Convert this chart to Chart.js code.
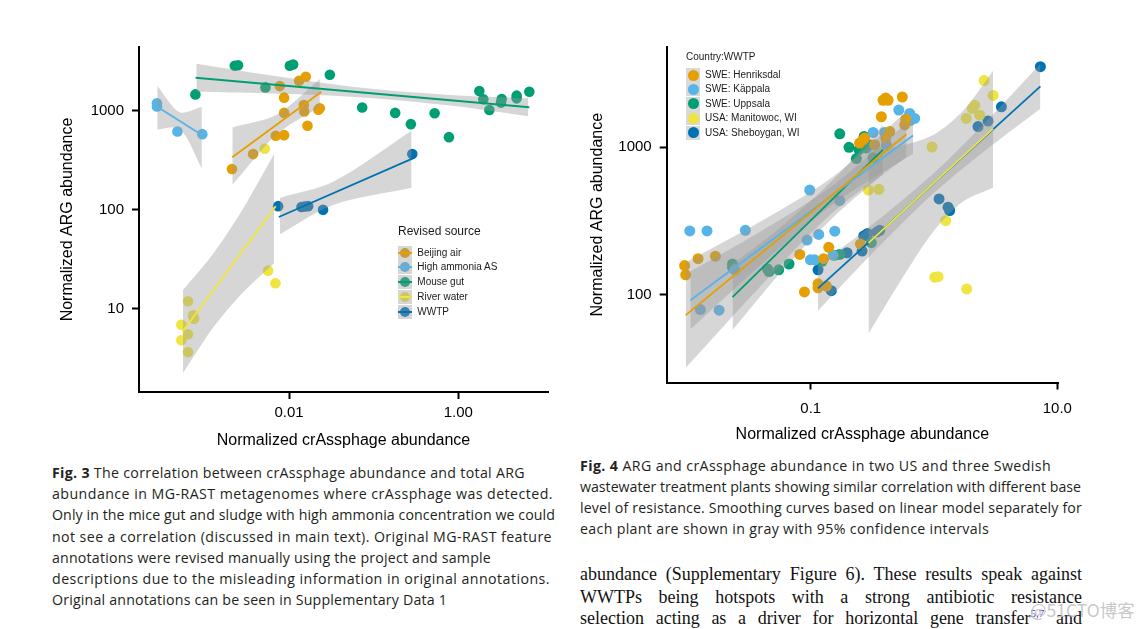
<!DOCTYPE html>
<html>
<head>
<meta charset="utf-8">
<script src="https://cdn.jsdelivr.net/npm/chart.js"></script>
<style>
  body { margin:0; width:1146px; height:629px; background:#fff; position:relative; overflow:hidden;
         font-family:"Liberation Sans", Arial, sans-serif; }
  canvas { position:absolute; }
  .lgtitle { position:absolute; white-space:nowrap; color:#1a1a1a; }
  .lgrow { position:absolute; white-space:nowrap; color:#1a1a1a; font-size:10px; }
  .key { position:absolute; width:14px; height:14px; background:#fff; overflow:hidden; }
  .key .dot { position:absolute; border-radius:50%; }
  .key .band { position:absolute; left:0; top:0; width:14px; height:14px; background:rgba(153,153,153,0.4); }
  .key .ln { position:absolute; left:0; top:6px; width:14px; height:2px; }
  .cap { position:absolute; font-family:"Open Sans", "Noto Sans", sans-serif; font-size:14.2px;
         line-height:21.3px; color:#231f20; white-space:nowrap; }
  .cap b { font-weight:700; }
  .fit { display:inline-block; white-space:nowrap; }
  .body { position:absolute; font-family:"Liberation Serif", "DejaVu Serif", serif; font-size:18px; color:#111;
          width:502px; text-align:justify; text-align-last:justify; white-space:nowrap; line-height:22px; height:22px; }
  .body sup { font-size:11px; color:#4040c8; vertical-align:0; position:relative; top:-7px; }
  .wm { position:absolute; font-family:"Noto Sans CJK SC", "Noto Sans", sans-serif; font-size:17.5px; color:rgba(190,190,190,0.85); }
</style>
</head>
<body>
<canvas id="fig3" width="520" height="430" style="left:40px;top:30px"></canvas>
<canvas id="fig4" width="520" height="420" style="left:566px;top:30px"></canvas>
<div id="legend3"></div>
<div id="legend4"></div>

<div class="cap" style="left:52px;top:461.7px">
<span class="fit" data-w="473"><b>Fig. 3</b> The correlation between crAssphage abundance and total ARG</span><br>
<span class="fit" data-w="501">abundance in MG-RAST metagenomes where crAssphage was detected.</span><br>
<span class="fit" data-w="503">Only in the mice gut and sludge with high ammonia concentration we could</span><br>
<span class="fit" data-w="500">not see a correlation (discussed in main text). Original MG-RAST feature</span><br>
<span class="fit" data-w="439">annotations were revised manually using the project and sample</span><br>
<span class="fit" data-w="498">descriptions due to the misleading information in original annotations.</span><br>
<span class="fit" data-w="395">Original annotations can be seen in Supplementary Data 1</span>
</div>

<div class="cap" style="left:580px;top:454.5px;line-height:21.1px">
<span class="fit" data-w="471"><b>Fig. 4</b> ARG and crAssphage abundance in two US and three Swedish</span><br>
<span class="fit" data-w="501">wastewater treatment plants showing similar correlation with different base</span><br>
<span class="fit" data-w="502">level of resistance. Smoothing curves based on linear model separately for</span><br>
<span class="fit" data-w="409">each plant are shown in gray with 95% confidence intervals</span>
</div>

<div class="body" style="left:580px;top:563px">abundance (Supplementary Figure 6). These results speak against</div>
<div class="body" style="left:580px;top:585.5px">WWTPs being hotspots with a strong antibiotic resistance</div>
<div class="body" style="left:580px;top:607px">selection acting as a driver for horizontal gene transfer<sup>5,7</sup> and</div>
<div class="wm" style="left:1030px;top:597px">@51CTO博客</div>

<script>
// ======================= Fig. 3 data (MG-RAST metagenomes) =======================
const f3Sources = ['Beijing air', 'High ammonia AS', 'Mouse gut', 'River water', 'WWTP'];

const f3BeijingX = [0.00211, 0.00375, 0.00695, 0.00873, 0.00873, 0.00873, 0.00776, 0.01312, 0.01574, 0.01493, 0.0151, 0.01649, 0.02307, 0.0222];
const f3BeijingY = [259, 366, 561, 569, 955, 1361, 1782, 2019, 2213, 1149, 985, 707, 1064, 1030];
const f3AmmoniaX = [0.000274, 0.000274, 0.000478, 0.000942];
const f3AmmoniaY = [1194, 1107, 619, 582];
const f3MouseX = [0.00078, 0.00228, 0.00249, 0.00525, 0.0102, 0.01115, 0.0303, 0.0731, 0.1795, 0.275, 0.525, 0.776, 1.774, 1.977, 2.33, 3.26, 3.2, 4.9, 4.9, 6.92];
const f3MouseY = [1469, 2857, 2897, 1729, 2857, 2944, 2318, 1081, 955, 735, 948, 543, 1589, 1310, 1023, 1320, 1213, 1426, 1340, 1563];
const f3RiverX = [0.00515, 0.00564, 0.00689, 0.000638, 0.000731, 0.000752, 0.000532, 0.000638, 0.000532, 0.000638];
const f3RiverY = [415, 24.3, 18.1, 11.9, 8.57, 7.94, 6.90, 5.52, 4.81, 3.66];
const f3WwtpX = [0.00741, 0.0140, 0.0153, 0.0168, 0.0252, 0.286];
const f3WwtpY = [109, 107, 108, 109, 100, 366];

// linear-model fits and 95% confidence bands
const f3BeijingFitX = [0.00213, 0.0241];
const f3BeijingFitY = [340, 1563];
const f3BeijingBandX = [0.00213, 0.00708, 0.0231];
const f3BeijingBandHi = [680, 912, 2100];
const f3BeijingBandLo = [178, 574, 1100];

const f3AmmoniaFitX = [0.000276, 0.00093];
const f3AmmoniaFitY = [1100, 570];
const f3AmmoniaBandX = [0.000276, 0.000508, 0.00093];
const f3AmmoniaBandHi = [1800, 970, 1100];
const f3AmmoniaBandLo = [650, 660, 262];

const f3MouseFitX = [0.000785, 6.92];
const f3MouseFitY = [2163, 1089];
const f3MouseBandX = [0.0008, 0.0054, 0.0822, 0.796, 6.73];
const f3MouseBandHi = [2992, 2318, 1690, 1449, 1341];
const f3MouseBandLo = [1563, 1506, 1361, 1132, 883];

const f3RiverFitX = [0.000547, 0.00695];
const f3RiverFitY = [5.84, 109];
const f3RiverBandX = [0.000557, 0.00126, 0.00286, 0.00664];
const f3RiverBandHi = [15.5, 35.7, 103, 367];
const f3RiverBandLo = [2.25, 6.44, 14.7, 28.8];

const f3WwtpFitX = [0.00755, 0.286];
const f3WwtpFitY = [84.7, 330];
const f3WwtpBandX = [0.00776, 0.0332, 0.2805];
const f3WwtpBandHi = [132, 192, 630];
const f3WwtpBandLo = [56.8, 112, 167];

const f3XTicks = [0.01, 1];
const f3XTickLabels = ['0.01', '1.00'];
const f3YTicks = [10, 100, 1000];
const f3YTickLabels = ['10', '100', '1000'];

// ======================= Fig. 4 data (five WWTPs) =======================
const f4Plants = ['SWE: Henriksdal', 'SWE: Käppala', 'SWE: Uppsala', 'USA: Manitowoc, WI', 'USA: Sheboygan, WI'];

const f4HenrX = [0.0095, 0.00968, 0.0122, 0.01686, 0.0815, 0.0889, 0.1146, 0.1146, 0.134, 0.1273, 0.140, 0.253, 0.249, 0.266, 0.274, 0.330, 0.374, 0.386, 0.406, 0.424, 0.553, 0.406, 0.438, 0.578, 0.589];
const f4HenrY = [157, 136, 175, 182, 187, 104, 118, 111, 114, 175, 209, 220, 1069, 1126, 1155, 1042, 1614, 2089, 2166, 2089, 2198, 1155, 1280, 1419, 1549];
const f4KappX = [0.01045, 0.01442, 0.0295, 0.01273, 0.01807, 0.0242, 0.0982, 0.1717, 0.0934, 0.1161, 0.1567, 0.0994, 0.1077, 0.1517, 0.3206, 0.398, 0.411, 0.518, 0.635, 0.655, 0.697, 0.64];
const f4KappY = [270, 270, 273, 78.9, 78.2, 147, 512, 434, 234, 256, 269, 172, 172, 185, 1261, 1261, 1042, 1791, 1700, 1573, 1573, 1520];
const f4UppsX = [0.0232, 0.0232, 0.0446, 0.0459, 0.0550, 0.0667, 0.1236, 0.1567, 0.172, 0.310, 0.172, 0.2045, 0.2345, 0.2465, 0.2824, 0.297, 0.3206, 0.271];
const f4UppsY = [161, 153, 149, 143, 147, 161, 168, 185, 187, 225, 1235, 1000, 839, 964, 990, 1042, 848, 1186];
const f4ManiX = [0.964, 0.294, 0.358, 1.245, 1.014, 1.079, 1.841, 1.828, 2.046, 2.138, 2.348, 2.547, 3.015];
const f4ManiY = [1005, 512, 518, 317, 131, 132, 109, 1573, 1837, 1933, 1655, 2844, 2254];
const f4ShebX = [0.147, 0.1146, 0.197, 0.261, 0.269, 0.283, 0.290, 0.345, 0.363, 1.099, 1.30, 1.34, 2.275, 2.74, 3.52, 7.29];
const f4ShebY = [106, 147, 192, 197, 250, 256, 260, 266, 273, 446, 392, 372, 1384, 1510, 1884, 3532];

const f4HenrFitX = [0.00968, 0.597];
const f4HenrFitY = [72.3, 1228];
const f4HenrBandX = [0.00968, 0.0385, 0.1517, 0.597];
const f4HenrBandHi = [165, 311, 632, 1762];
const f4HenrBandLo = [31.7, 112, 362, 857];

const f4KappFitX = [0.01057, 0.676];
const f4KappFitY = [91.2, 1204];
const f4KappBandX = [0.01057, 0.0385, 0.1517, 0.676];
const f4KappBandHi = [143.6, 266, 553, 1600];
const f4KappBandLo = [57.9, 156, 410, 906];

const f4UppsFitX = [0.0232, 0.386];
const f4UppsFitY = [95.9, 964];
const f4UppsBandX = [0.0232, 0.0561, 0.1517, 0.386];
const f4UppsBandHi = [161, 283, 601, 1419];
const f4UppsBandLo = [57.3, 139, 334, 656];

const f4ManiFitX = [0.294, 3.015];
const f4ManiFitY = [224, 1340];
const f4ManiBandX = [0.294, 0.527, 0.982, 1.72, 3.015];
const f4ManiBandHi = [964, 1021, 1211, 1771, 3319];
const f4ManiBandLo = [54.0, 121, 266, 428, 531];

const f4ShebFitX = [0.1146, 7.29];
const f4ShebFitY = [110, 2595];
const f4ShebBandX = [0.1146, 0.2825, 0.923, 2.50, 7.29];
const f4ShebBandHi = [157, 277, 630, 1426, 3681];
const f4ShebBandLo = [77.6, 173, 461, 925, 1828];

const f4XTicks = [0.1, 10];
const f4XTickLabels = ['0.1', '10.0'];
const f4YTicks = [100, 1000];
const f4YTickLabels = ['100', '1000'];

// ======================= styling =======================
const palette = ['#E69F00', '#56B4E9', '#009E73', '#F0E442', '#0072B2'];
const BAND = 'rgba(153,153,153,0.4)';
Chart.defaults.font.family = '"Liberation Sans", Arial, sans-serif';

const pts = (xs, ys) => xs.map((x, i) => ({ x: x, y: ys[i] }));

function buildDatasets(groups, radius) {
  const ds = [];
  groups.forEach((g, k) => ds.push({
    type: 'scatter', label: g.name, data: pts(g.x, g.y),
    backgroundColor: palette[k], borderColor: palette[k], borderWidth: 0,
    pointRadius: radius, pointHoverRadius: radius, order: 3
  }));
  groups.forEach((g, k) => {
    ds.push({ type: 'line', label: g.name + ' CI', data: pts(g.bx, g.hi), fill: '+1',
      backgroundColor: BAND, borderColor: 'rgba(0,0,0,0)', borderWidth: 0, pointRadius: 0, tension: 0.3, order: 2 });
    ds.push({ type: 'line', label: g.name + ' CI low', data: pts(g.bx, g.lo), fill: false,
      backgroundColor: 'rgba(0,0,0,0)', borderColor: 'rgba(0,0,0,0)', borderWidth: 0, pointRadius: 0, tension: 0.3, order: 2 });
  });
  groups.forEach((g, k) => ds.push({
    type: 'line', label: g.name + ' fit', data: pts(g.fx, g.fy), fill: false,
    borderColor: palette[k], borderWidth: 1.8, pointRadius: 0, order: 1
  }));
  return ds;
}

function axisCfg(o) {
  const tickGrid = { display: true, drawOnChartArea: false, drawTicks: true, tickLength: 7, tickWidth: 2, tickColor: '#000' };
  return {
    x: {
      type: 'logarithmic', min: o.xMin, max: o.xMax,
      afterBuildTicks: s => { s.ticks = o.xTicks.map(v => ({ value: v })); },
      afterFit: s => { s.height = o.xH; },
      border: { display: true, color: '#000', width: 2 },
      grid: tickGrid,
      ticks: { autoSkip: false, maxRotation: 0, color: '#000', font: { size: 15 }, padding: o.xPad,
               callback: (v, i) => o.xLabels[i] },
      title: { display: true, text: 'Normalized crAssphage abundance', color: '#000', font: { size: 16 },
               padding: { top: 0, bottom: o.xTitlePad } }
    },
    y: {
      type: 'logarithmic', min: o.yMin, max: o.yMax,
      afterBuildTicks: s => { s.ticks = o.yTicks.map(v => ({ value: v })); },
      afterFit: s => { s.width = o.yW; },
      border: { display: true, color: '#000', width: 2 },
      grid: tickGrid,
      ticks: { autoSkip: false, color: '#000', font: { size: 15 }, padding: 8,
               callback: (v, i) => o.yLabels[i] },
      title: { display: true, text: 'Normalized ARG abundance', color: '#000', font: { size: 16 },
               padding: { top: o.yTitlePad, bottom: 0 } }
    }
  };
}

function makeChart(id, groups, radius, ax, pad) {
  return new Chart(document.getElementById(id), {
    type: 'scatter',
    data: { datasets: buildDatasets(groups, radius) },
    options: {
      responsive: false, animation: false, events: [],
      layout: { padding: pad },
      plugins: { legend: { display: false }, tooltip: { enabled: false } },
      scales: axisCfg(ax)
    }
  });
}

const f3Groups = [
  { name: f3Sources[0], x: f3BeijingX, y: f3BeijingY, fx: f3BeijingFitX, fy: f3BeijingFitY, bx: f3BeijingBandX, hi: f3BeijingBandHi, lo: f3BeijingBandLo },
  { name: f3Sources[1], x: f3AmmoniaX, y: f3AmmoniaY, fx: f3AmmoniaFitX, fy: f3AmmoniaFitY, bx: f3AmmoniaBandX, hi: f3AmmoniaBandHi, lo: f3AmmoniaBandLo },
  { name: f3Sources[2], x: f3MouseX, y: f3MouseY, fx: f3MouseFitX, fy: f3MouseFitY, bx: f3MouseBandX, hi: f3MouseBandHi, lo: f3MouseBandLo },
  { name: f3Sources[3], x: f3RiverX, y: f3RiverY, fx: f3RiverFitX, fy: f3RiverFitY, bx: f3RiverBandX, hi: f3RiverBandHi, lo: f3RiverBandLo },
  { name: f3Sources[4], x: f3WwtpX, y: f3WwtpY, fx: f3WwtpFitX, fy: f3WwtpFitY, bx: f3WwtpBandX, hi: f3WwtpBandHi, lo: f3WwtpBandLo }
];
const f4Groups = [
  { name: f4Plants[0], x: f4HenrX, y: f4HenrY, fx: f4HenrFitX, fy: f4HenrFitY, bx: f4HenrBandX, hi: f4HenrBandHi, lo: f4HenrBandLo },
  { name: f4Plants[1], x: f4KappX, y: f4KappY, fx: f4KappFitX, fy: f4KappFitY, bx: f4KappBandX, hi: f4KappBandHi, lo: f4KappBandLo },
  { name: f4Plants[2], x: f4UppsX, y: f4UppsY, fx: f4UppsFitX, fy: f4UppsFitY, bx: f4UppsBandX, hi: f4UppsBandHi, lo: f4UppsBandLo },
  { name: f4Plants[3], x: f4ManiX, y: f4ManiY, fx: f4ManiFitX, fy: f4ManiFitY, bx: f4ManiBandX, hi: f4ManiBandHi, lo: f4ManiBandLo },
  { name: f4Plants[4], x: f4ShebX, y: f4ShebY, fx: f4ShebFitX, fy: f4ShebFitY, bx: f4ShebBandX, hi: f4ShebBandHi, lo: f4ShebBandLo }
];

makeChart('fig3', f3Groups, 5.3, {
  xMin: 0.000168, xMax: 11.5, yMin: 1.442, yMax: 4426,
  xTicks: f3XTicks, xLabels: f3XTickLabels, yTicks: f3YTicks, yLabels: f3YTickLabels,
  xH: 68, yW: 99, xPad: 5, xTitlePad: 9.4, yTitlePad: 18.4
}, { top: 15, right: 12, left: 0, bottom: 0 });

makeChart('fig4', f4Groups, 5.5, {
  xMin: 0.00679, xMax: 10.13, yMin: 25.2, yMax: 4808,
  xTicks: f4XTicks, xLabels: f4XTickLabels, yTicks: f4YTicks, yLabels: f4YTickLabels,
  xH: 67.5, yW: 100.7, xPad: 10.5, xTitlePad: 6.1, yTitlePad: 22
}, { top: 12.7, right: 28, left: 0, bottom: 0 });

// ======================= legends (HTML) =======================
function legend(hostId, title, names, o) {
  const host = document.getElementById(hostId);
  const t = document.createElement('div');
  t.className = 'lgtitle';
  t.textContent = title;
  t.style.cssText = `left:${o.x}px;top:${o.titleY - o.titleSize * 0.6}px;font-size:${o.titleSize}px;line-height:${o.titleSize * 1.2}px`;
  host.appendChild(t);
  names.forEach((n, i) => {
    const cy = o.y0 + i * o.step;
    const key = document.createElement('div');
    key.className = 'key';
    key.style.cssText = `left:${o.x}px;top:${cy - 7}px;background:${o.withBand ? '#fff' : '#d9d9d9'}`;
    const dot = document.createElement('div');
    dot.className = 'dot';
    dot.style.cssText = `left:${7 - o.r}px;top:${7 - o.r}px;width:${2 * o.r}px;height:${2 * o.r}px;background:${palette[i]}`;
    key.appendChild(dot);
    if (o.withBand) {
      const b = document.createElement('div'); b.className = 'band'; key.appendChild(b);
      const l = document.createElement('div'); l.className = 'ln'; l.style.background = palette[i]; key.appendChild(l);
    }
    host.appendChild(key);
    const lab = document.createElement('div');
    lab.className = 'lgrow';
    lab.textContent = n;
    lab.style.cssText = `left:${o.textX}px;top:${cy - 6}px;line-height:12px`;
    host.appendChild(lab);
  });
}
legend('legend3', 'Revised source', f3Sources, { x: 398, titleY: 230.7, titleSize: 12, y0: 252.7, step: 14.75, textX: 417.3, r: 5, withBand: true });
legend('legend4', 'Country:WWTP', f4Plants, { x: 686, titleY: 56.7, titleSize: 10, y0: 75, step: 14.4, textX: 705, r: 5.5, withBand: false });

// fit each caption line to the width it has in the reference
function fitCaptions() {
  document.querySelectorAll('.fit').forEach(el => {
    el.style.letterSpacing = '0px';
    const target = +el.dataset.w;
    const w = el.getBoundingClientRect().width;
    const n = el.textContent.length;
    el.style.letterSpacing = ((target - w) / n).toFixed(3) + 'px';
  });
}
fitCaptions();
if (document.fonts && document.fonts.ready) document.fonts.ready.then(fitCaptions);
</script>
</body>
</html>
